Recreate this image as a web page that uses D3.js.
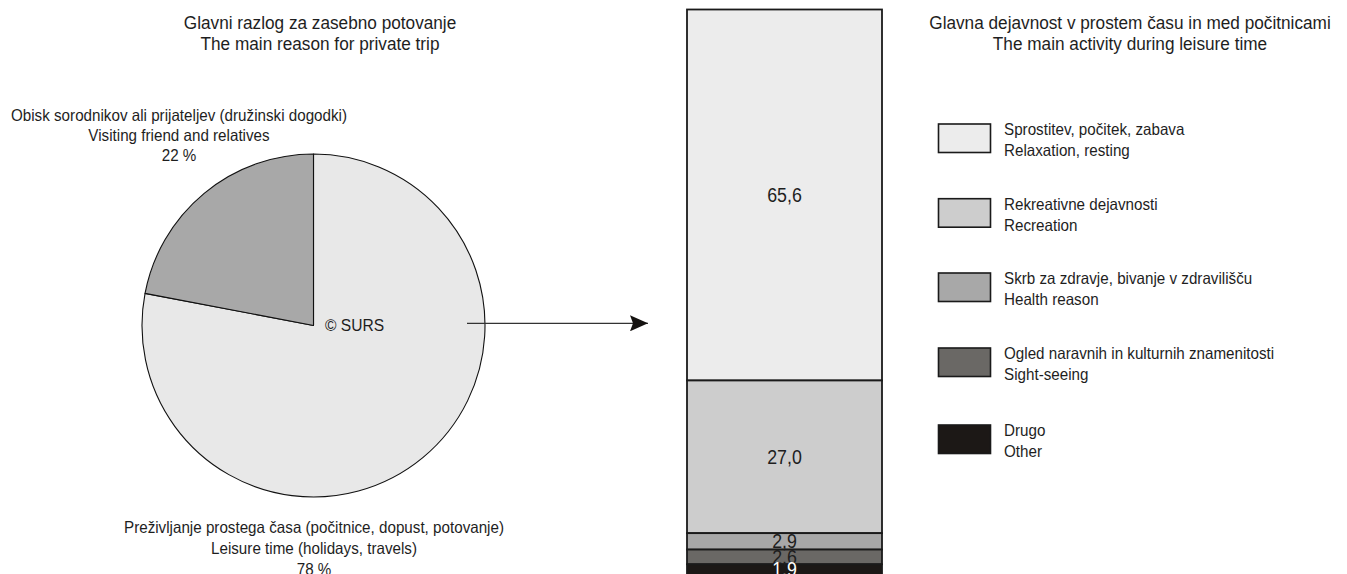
<!DOCTYPE html>
<html>
<head>
<meta charset="utf-8">
<script src="https://cdn.jsdelivr.net/npm/d3@7"></script>
<style>
  html, body { margin: 0; padding: 0; background: #fff; }
  svg { display: block; }
  text { font-family: "Liberation Sans", Arial, sans-serif; fill: #1e1e1e; }
</style>
</head>
<body>
<svg id="chart" width="1347" height="574"></svg>
<script>
// ---- data ----
const pieTitle = ["Glavni razlog za zasebno potovanje", "The main reason for private trip"];
const pieCategories = ["Leisure time", "Visiting friend and relatives"];
const pieValues = [78, 22];
const pieLabelLines = [
  ["Preživljanje prostega časa (počitnice, dopust, potovanje)", "Leisure time (holidays, travels)", "78 %"],
  ["Obisk sorodnikov ali prijateljev (družinski dogodki)", "Visiting friend and relatives", "22 %"]
];
const pieColors = ["#e8e8e8", "#a8a8a8"];

const barTitle = ["Glavna dejavnost v prostem času in med počitnicami", "The main activity during leisure time"];
const barCategories = ["Relaxation, resting", "Recreation", "Health reason", "Sight-seeing", "Other"];
const barValues = [65.6, 27.0, 2.9, 2.6, 1.9];
const barValueLabels = ["65,6", "27,0", "2,9", "2,6", "1,9"];
const legendLines = [
  ["Sprostitev, počitek, zabava", "Relaxation, resting"],
  ["Rekreativne dejavnosti", "Recreation"],
  ["Skrb za zdravje, bivanje v zdravilišču", "Health reason"],
  ["Ogled naravnih in kulturnih znamenitosti", "Sight-seeing"],
  ["Drugo", "Other"]
];
const barColors = ["#ececec", "#cdcdcd", "#a8a8a8", "#6a6865", "#1c1816"];
const copyright = "© SURS";

// ---- drawing ----
const svg = d3.select("#chart");
const SY = 1.1;

function txt(g, x, y, s, size, anchor, color) {
  return g.append("text")
    .attr("transform", `translate(${x},${y + 0.5}) scale(1,${SY})`)
    .attr("text-anchor", anchor || "middle")
    .style("font-size", size + "px")
    .style("fill", color || "#1e1e1e")
    .text(s);
}

// Pie
const cx = 313.5, cy = 325.5, R = 171.5;
const pieGen = d3.pie().sort(null).value(d => d);
const arcGen = d3.arc().innerRadius(0).outerRadius(R);
const pg = svg.append("g").attr("transform", `translate(${cx},${cy})`);
pg.selectAll("path").data(pieGen(pieValues)).join("path")
  .attr("d", arcGen)
  .attr("fill", (d, i) => pieColors[i])
  .attr("stroke", "#111")
  .attr("stroke-width", 1.1)
  .attr("stroke-linejoin", "round");

// Titles
pieTitle.forEach((s, i) => txt(svg, 320, 28 + i * 21.5, s, 17.2));
barTitle.forEach((s, i) => txt(svg, 1130, 28 + i * 21.5, s, 17.2));

// Pie labels
pieLabelLines[1].forEach((s, i) => txt(svg, 179, 120.5 + i * 20, s, 15.2));
pieLabelLines[0].forEach((s, i) => txt(svg, 314, 532.5 + i * 21, s, 15.2));
txt(svg, 325, 330.5, copyright, 15.6, "start");

// Arrow
svg.append("defs").append("marker")
  .attr("id", "ah").attr("viewBox", "0 0 20 16")
  .attr("refX", 18).attr("refY", 8)
  .attr("markerWidth", 20).attr("markerHeight", 16)
  .attr("markerUnits", "userSpaceOnUse")
  .attr("orient", "auto")
  .append("path").attr("d", "M0,0 L18,8 L0,16 L3,8 Z").attr("fill", "#151210");
svg.append("line")
  .attr("x1", 467).attr("y1", 323.3).attr("x2", 648).attr("y2", 323.3)
  .attr("stroke", "#333").attr("stroke-width", 1.3)
  .attr("marker-end", "url(#ah)");

// Stacked bar
const bx0 = 687, bx1 = 882;
const y = d3.scaleLinear().domain([0, 100]).range([575, 9.5]);
let cum = 0;
const stacks = barValues.map((v, i) => { const s = { i, v, y0: cum, y1: cum + v }; cum += v; return s; });
// first category on top
const total = d3.sum(barValues);
const segs = stacks.map(s => ({ ...s, top: total - s.y0, bot: total - s.y1 }));
const bg = svg.append("g");
bg.selectAll("rect").data(segs).join("rect")
  .attr("x", bx0).attr("width", bx1 - bx0)
  .attr("y", d => y(d.top)).attr("height", d => y(d.bot) - y(d.top))
  .attr("fill", d => barColors[d.i])
  .attr("stroke", "#1a1a1a").attr("stroke-width", 1.8);
segs.forEach(d => {
  const mid = (y(d.top) + y(d.bot)) / 2;
  txt(bg, (bx0 + bx1) / 2, mid + 6.3, barValueLabels[d.i], 17.8, "middle", d.i === 4 ? "#ffffff" : "#1e1e1e");
});

// Legend
const legTop = [124, 198.7, 273, 348, 425];
const lg = svg.append("g");
legendLines.forEach((lines, i) => {
  lg.append("rect")
    .attr("x", 938.5).attr("y", legTop[i]).attr("width", 52).attr("height", 28.5)
    .attr("fill", barColors[i]).attr("stroke", "#1a1a1a").attr("stroke-width", 1.6);
  lines.forEach((s, j) => txt(lg, 1004, legTop[i] + 10.5 + j * 21, s, 15.2, "start"));
});
</script>
</body>
</html>
